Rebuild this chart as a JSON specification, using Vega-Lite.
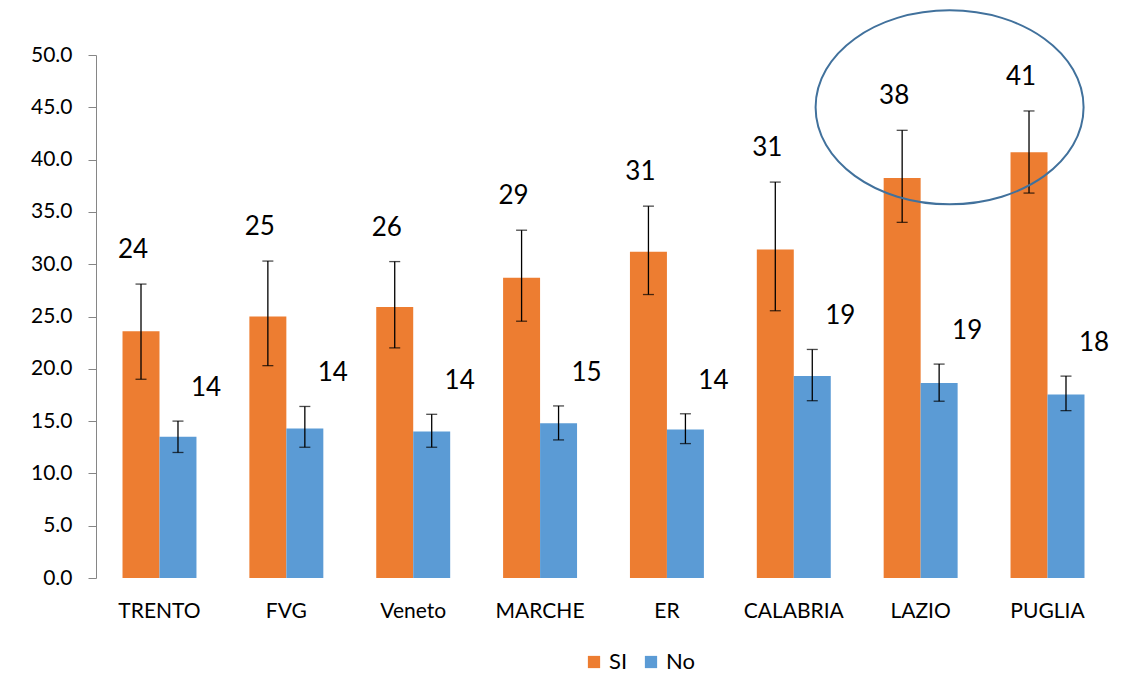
{
  "$schema": "https://vega.github.io/schema/vega-lite/v6.json",
  "width": 1015,
  "height": 523,
  "autosize": {"type": "none"},
  "padding": {"left": 96, "top": 55, "right": 10, "bottom": 96},
  "background": "white",
  "config": {
    "font": "Lato",
    "view": {"stroke": null}
  },
  "data": {
    "values": [
      {"region": "TRENTO", "series": "SI", "value": 23.6, "lo": 19.0, "hi": 28.1},
      {"region": "TRENTO", "series": "No", "value": 13.5, "lo": 12.0, "hi": 15.0},
      {"region": "FVG", "series": "SI", "value": 25.0, "lo": 20.3, "hi": 30.3},
      {"region": "FVG", "series": "No", "value": 14.3, "lo": 12.5, "hi": 16.4},
      {"region": "Veneto", "series": "SI", "value": 25.9, "lo": 22.0, "hi": 30.25},
      {"region": "Veneto", "series": "No", "value": 14.0, "lo": 12.5, "hi": 15.65},
      {"region": "MARCHE", "series": "SI", "value": 28.7, "lo": 24.55, "hi": 33.25},
      {"region": "MARCHE", "series": "No", "value": 14.8, "lo": 13.2, "hi": 16.45},
      {"region": "ER", "series": "SI", "value": 31.2, "lo": 27.1, "hi": 35.55},
      {"region": "ER", "series": "No", "value": 14.2, "lo": 12.85, "hi": 15.7},
      {"region": "CALABRIA", "series": "SI", "value": 31.4, "lo": 25.55, "hi": 37.85},
      {"region": "CALABRIA", "series": "No", "value": 19.3, "lo": 16.95, "hi": 21.85},
      {"region": "LAZIO", "series": "SI", "value": 38.25, "lo": 34.0, "hi": 42.8},
      {"region": "LAZIO", "series": "No", "value": 18.65, "lo": 16.9, "hi": 20.45},
      {"region": "PUGLIA", "series": "SI", "value": 40.7, "lo": 36.8, "hi": 44.65},
      {"region": "PUGLIA", "series": "No", "value": 17.55, "lo": 16.0, "hi": 19.3}
    ]
  },
  "encoding": {
    "x": {
      "field": "region",
      "type": "nominal",
      "sort": ["TRENTO", "FVG", "Veneto", "MARCHE", "ER", "CALABRIA", "LAZIO", "PUGLIA"],
      "scale": {"paddingInner": 0.417, "paddingOuter": 0.209},
      "axis": {
        "title": null,
        "domain": false,
        "ticks": false,
        "labelAngle": 0,
        "labelFontSize": 21,
        "labelColor": "#000000",
        "labelPadding": 22
      }
    }
  },
  "layer": [
    {
      "mark": {"type": "bar"},
      "encoding": {
        "xOffset": {"field": "series", "type": "nominal", "sort": ["SI", "No"], "scale": {"paddingInner": 0, "paddingOuter": 0}},
        "y": {
          "field": "value",
          "type": "quantitative",
          "scale": {"domain": [0, 50], "nice": false},
          "axis": {
            "title": null,
            "values": [0, 5, 10, 15, 20, 25, 30, 35, 40, 45, 50],
            "format": ".1f",
            "grid": false,
            "labelFontSize": 21,
            "labelColor": "#000000",
            "domainColor": "#868686",
            "tickColor": "#868686",
            "tickSize": 8,
            "labelPadding": 16
          }
        },
        "color": {
          "field": "series",
          "type": "nominal",
          "scale": {"domain": ["SI", "No"], "range": ["#ED7D31", "#5B9BD5"]},
          "legend": {
            "title": null,
            "orient": "none",
            "legendX": 487,
            "legendY": 596,
            "direction": "horizontal",
            "symbolType": "square",
            "symbolSize": 150,
            "symbolStrokeWidth": 0,
            "labelFontSize": 22,
            "labelColor": "#000000",
            "columnPadding": 12
          }
        }
      }
    },
    {
      "mark": {"type": "rule", "color": "#000000", "strokeWidth": 1.3},
      "encoding": {
        "xOffset": {"field": "series", "type": "nominal", "sort": ["SI", "No"]},
        "y": {"field": "lo", "type": "quantitative"},
        "y2": {"field": "hi"}
      }
    },
    {
      "mark": {"type": "tick", "color": "#000000", "size": 11, "thickness": 1.3},
      "encoding": {
        "xOffset": {"field": "series", "type": "nominal", "sort": ["SI", "No"]},
        "y": {"field": "lo", "type": "quantitative"}
      }
    },
    {
      "mark": {"type": "tick", "color": "#000000", "size": 11, "thickness": 1.3},
      "encoding": {
        "xOffset": {"field": "series", "type": "nominal", "sort": ["SI", "No"]},
        "y": {"field": "hi", "type": "quantitative"}
      }
    },
    {
      "transform": [{"filter": "datum.series === 'SI'"}],
      "mark": {"type": "text", "fontSize": 26, "baseline": "middle", "dy": -34, "dx": -8, "color": "#000000"},
      "encoding": {
        "xOffset": {"field": "series", "type": "nominal", "sort": ["SI", "No"]},
        "y": {"field": "hi", "type": "quantitative"},
        "text": {"field": "value", "type": "quantitative", "format": ".0f"}
      }
    },
    {
      "transform": [{"filter": "datum.series === 'No'"}],
      "mark": {"type": "text", "fontSize": 26, "baseline": "middle", "dy": -33, "dx": 28, "color": "#000000"},
      "encoding": {
        "xOffset": {"field": "series", "type": "nominal", "sort": ["SI", "No"]},
        "y": {"field": "hi", "type": "quantitative"},
        "text": {"field": "value", "type": "quantitative", "format": ".0f"}
      }
    },
    {
      "data": {"values": [{"region": "LAZIO", "center": 45}]},
      "mark": {
        "type": "point",
        "shape": "M -0.784 0 A 1 0.724 0 1 1 1.216 0 A 1 0.724 0 1 1 -0.784 0 Z",
        "filled": false,
        "size": 71824,
        "stroke": "#41719C",
        "strokeWidth": 2,
        "opacity": 1
      },
      "encoding": {
        "y": {"field": "center", "type": "quantitative"}
      }
    }
  ]
}
